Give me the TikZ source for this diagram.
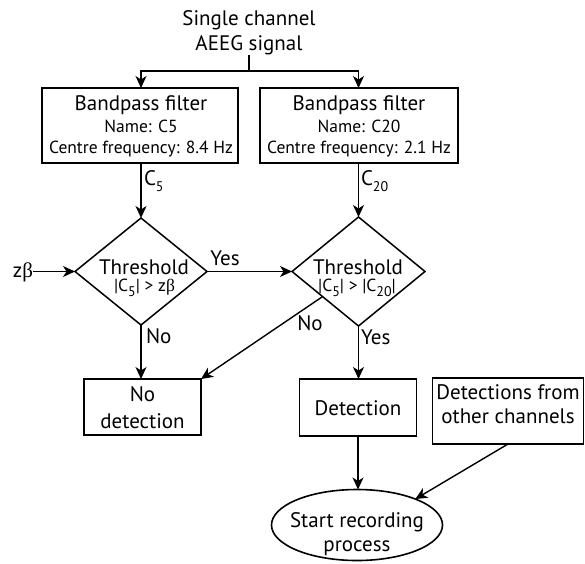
\documentclass[tikz,border=0pt]{standalone}
\usepackage{fontspec}
\setmainfont{PT Sans}
\newfontfamily\betafont{Liberation Serif}
\usetikzlibrary{shapes.geometric,arrows.meta,calc}
\newcommand\lowsub[1]{\raisebox{-0.3em}{\fontsize{14}{14}\selectfont #1}}
\newcommand\bt{{\betafont β}}
\begin{document}
\begin{tikzpicture}[x=1pt,y=-1pt,
  every node/.style={inner sep=0pt,outer sep=0pt},
  boxst/.style={draw,line width=1.6pt,rectangle},
  dia/.style={draw,line width=1.5pt,diamond,aspect=1},
  txt/.style={anchor=base},
  big/.style={font=\fontsize{21}{25}\selectfont},
  mid/.style={font=\fontsize{21}{25}\selectfont},
  small/.style={font=\fontsize{17.5}{21}\selectfont},
  plain/.style={line width=1.4pt},
  arr/.style={line width=1.4pt,-{Stealth[length=12pt,width=11pt,inset=3.5pt]}}
]
\useasboundingbox (0,0) rectangle (585,563);

% title
\node[txt,mid] (t1) at (249,25) {Single channel};
\node[txt,mid] (t2) at (249,50) {AEEG signal};

% filter boxes
\node[boxst,minimum width=196,minimum height=75] (b1) at (140,125.5) {};
\node[txt,big] (b1a) at (141,110) {Bandpass filter};
\node[txt,small] (b1b) at (141,132) {Name: C5};
\node[txt,small] (b1c) at (141,153) {Centre frequency: 8.4 Hz};

\node[boxst,minimum width=198,minimum height=75] (b2) at (359,125.5) {};
\node[txt,big] (b2a) at (359,110) {Bandpass filter};
\node[txt,small] (b2b) at (359,132) {Name: C20};
\node[txt,small] (b2c) at (359,153) {Centre frequency: 2.1 Hz};

% diamonds
\node[dia,minimum width=132,minimum height=107] (d1) at (141,271.5) {};
\node[txt,big] (d1a) at (144,274) {Threshold};
\node[txt,small] (d1b) at (144.5,291) {|C\lowsub{5}| > z\bt};

\node[dia,minimum width=133,minimum height=109] (d2) at (358.5,271.5) {};
\node[txt,big] (d2a) at (358,274) {Threshold};
\node[txt,small] (d2b) at (357,291) {|C\lowsub{5}| > |C\lowsub{20}|};

% lower boxes
\node[boxst,minimum width=117,minimum height=56] (nd) at (142.5,407) {};
\node[txt,mid] (nda) at (142.5,401) {No};
\node[txt,mid] (ndb) at (142.5,428) {detection};

\node[boxst,minimum width=117,minimum height=57] (det) at (358,407.5) {};
\node[txt,mid] (deta) at (358,415) {Detection};

\node[boxst,minimum width=151,minimum height=66] (dfo) at (508,411) {};
\node[txt,mid] (dfoa) at (508,399) {Detections from};
\node[txt,mid] (dfob) at (508,423) {other channels};

\node[draw,line width=1.6pt,ellipse,minimum width=171,minimum height=71] (ell) at (357,525) {};
\node[txt,mid] (ella) at (357,527) {Start recording};
\node[txt,mid] (ellb) at (357,551) {process};

% labels
\node[txt,mid,anchor=base west] (c5) at (144,185) {C\lowsub{5}};
\node[txt,mid,anchor=base west] (c20) at (361,185) {C\lowsub{20}};
\node[txt,mid,anchor=base east] (zb) at (33,277) {z\bt};
\node[txt,mid] (y1) at (225,265) {Yes};
\node[txt,mid,anchor=base west] (n1) at (146,343) {No};
\node[txt,mid] (n2) at (310,330) {No};
\node[txt,mid,anchor=base west] (y2) at (361,344) {Yes};

% connectors
\coordinate (top) at (249,55);
\coordinate (j) at (249,71);
\draw[plain] (top) -- (j);
\draw[arr] (j) -| (d1.north |- b1.north);
\draw[arr] (j) -| (d2.north |- b2.north);
\draw[arr] (d1.north |- b1.south) -- (d1.north);
\draw[arr] (d2.north |- b2.south) -- (d2.north);
\draw[arr] (d1.west -| zb.east) -- (d1.west);
\draw[arr] (d1.east) -- (d2.west);
\draw[arr] (d1.south) -- (d1.south |- nd.north);
\draw[arr] ($(d2.west)!0.46!(d2.south)$) -- (nd.north east);
\draw[arr] (d2.south) -- (d2.south |- det.north);
\draw[arr] (det.south) -- (det.south |- ell.north);
\draw[arr] (dfo.south) -- (ell.24);
\end{tikzpicture}
\end{document}
